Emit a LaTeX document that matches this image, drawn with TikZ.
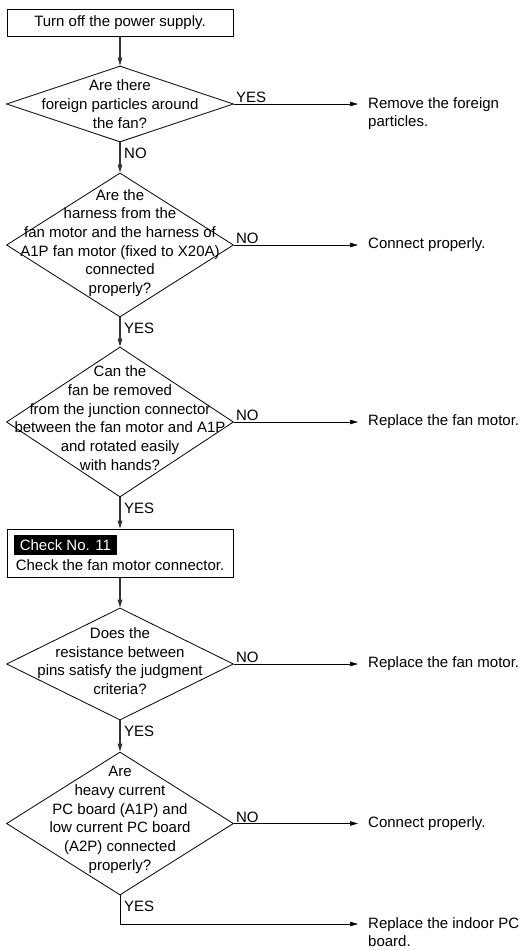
\documentclass[tikz,border=0pt]{standalone}
\usepackage{fontspec}
\setmainfont{Liberation Sans}
\usetikzlibrary{shapes.geometric,arrows.meta}

\begin{document}
\begin{tikzpicture}[x=1pt, y=-1pt,
    font=\fontsize{15}{18.7}\selectfont,
    box/.style={draw, line width=0.8pt, minimum width=226, inner sep=0},
    ask/.style={draw, diamond, line width=0.8pt, minimum width=227, inner sep=0},
    asktext/.style={align=center, inner sep=0},
    result/.style={align=left, inner sep=0},
    answer/.style={inner sep=0},
    tag/.style={fill=black, text=white, inner xsep=6, inner ysep=0, minimum height=20},
    flow/.style={draw=black!80, line width=1.1pt, -{Triangle[length=8pt,width=4.5pt]}},
    side/.style={draw, line width=0.7pt, -{Triangle[length=8pt,width=4.5pt]}, shorten >=10pt}]
  \useasboundingbox (0,0) rectangle (531,951);

  \node[box, minimum height=27] (Start) at (120, 22.5) {Turn off the power supply.};

  \node[ask, minimum height=76] (Ask1) at (120, 104) {};
    \node[asktext] (Ask1Text) at (120, 104) {Are there\\foreign particles around\\the fan?};
    \node[answer, anchor=south west] (Ask1Yes) at ([shift={(2,-1)}]Ask1.east) {YES};
    \node[answer, anchor=north west] (Ask1No) at ([shift={(4,5)}]Ask1.south) {NO};
    \node[result, anchor=north west] (Res1) at (368, 97) {Remove the foreign\\particles.};

  \node[ask, minimum height=144] (Ask2) at (120, 245) {};
    \node[asktext] (Ask2Text) at (120, 243) {Are the\\harness from the\\fan motor and the harness of\\A1P fan motor (fixed to X20A)\\connected\\properly?};
    \node[answer, anchor=south west] (Ask2No) at ([shift={(2,-1)}]Ask2.east) {NO};
    \node[answer, anchor=north west] (Ask2Yes) at ([shift={(4,5)}]Ask2.south) {YES};
    \node[result, anchor=west] (Res2) at (368, 245) {Connect properly.};

  \node[ask, minimum height=150] (Ask3) at (120, 422) {};
    \node[asktext] (Ask3Text) at (120, 418) {Can the\\fan be removed\\from the junction connector\\between the fan motor and A1P\\and rotated easily\\with hands?};
    \node[answer, anchor=south west] (Ask3No) at ([shift={(2,-1)}]Ask3.east) {NO};
    \node[answer, anchor=north west] (Ask3Yes) at ([shift={(4,5)}]Ask3.south) {YES};
    \node[result, anchor=west] (Res3) at (368, 422) {Replace the fan motor.};

  \node[box, minimum height=48] (Chk) at (120, 553) {};
    \node[tag, anchor=north west] (ChkTag) at ([shift={(7,6)}]Chk.north west) {Check No. 11};
    \node[answer] (ChkText) at (120, 565) {Check the fan motor connector.};

  \node[ask, minimum height=112] (Ask4) at (120, 664) {};
    \node[asktext] (Ask4Text) at (120, 661) {Does the\\resistance between\\pins satisfy the judgment\\criteria?};
    \node[answer, anchor=south west] (Ask4No) at ([shift={(2,-1)}]Ask4.east) {NO};
    \node[answer, anchor=north west] (Ask4Yes) at ([shift={(4,5)}]Ask4.south) {YES};
    \node[result, anchor=west] (Res4) at (368, 664) {Replace the fan motor.};

  \node[ask, minimum height=143] (Ask5) at (120, 823.5) {};
    \node[asktext] (Ask5Text) at (120, 820) {Are\\heavy current\\PC board (A1P) and\\low current PC board\\(A2P) connected\\properly?};
    \node[answer, anchor=south west] (Ask5No) at ([shift={(2,-1)}]Ask5.east) {NO};
    \node[answer, anchor=north west] (Ask5Yes) at ([shift={(4,5)}]Ask5.south) {YES};
    \node[result, anchor=west] (Res5) at (368, 823.5) {Connect properly.};
    \coordinate (Turn5) at (120, 924);
    \node[result, anchor=north west] (Res6) at (368, 917) {Replace the indoor PC\\board.};

  \draw[flow] (Start.south) -- (Ask1.north);
  \draw[flow] (Ask1.south) -- (Ask2.north);
  \draw[flow] (Ask2.south) -- (Ask3.north);
  \draw[flow] (Ask3.south) -- (Chk.north);
  \draw[flow] (Chk.south) -- (Ask4.north);
  \draw[flow] (Ask4.south) -- (Ask5.north);

  \draw[side] (Ask1.east) -- (Ask1.east -| Res1.west);
  \draw[side] (Ask2.east) -- (Res2.west);
  \draw[side] (Ask3.east) -- (Res3.west);
  \draw[side] (Ask4.east) -- (Res4.west);
  \draw[side] (Ask5.east) -- (Res5.west);
  \draw[side] (Ask5.south) -- (Turn5) -- (Turn5 -| Res6.west);
\end{tikzpicture}
\end{document}
